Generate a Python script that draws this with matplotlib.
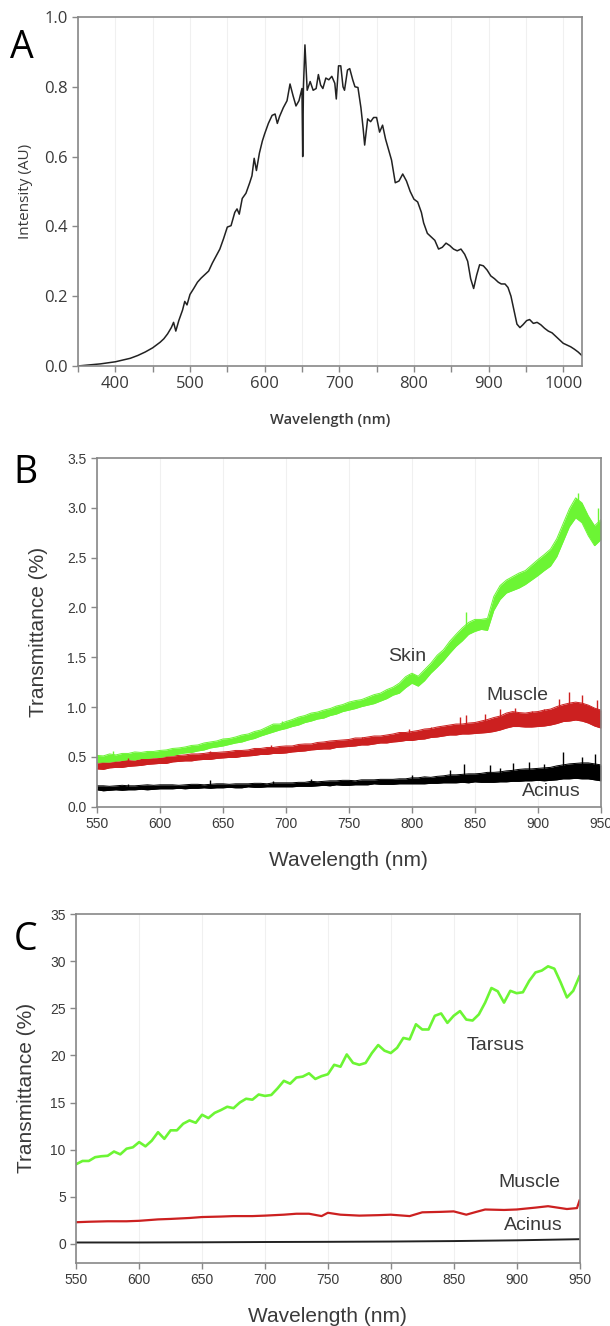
import numpy as np
import matplotlib
matplotlib.use("Agg")
import matplotlib.pyplot as plt
from matplotlib.ticker import MultipleLocator, FormatStrFormatter

# ---- panel A: lamp spectrum ----
spec_nm = [350, 360, 370, 380, 390, 400, 410, 420, 430, 440, 450, 460, 465, 470, 475, 478, 481, 485,
           490, 493, 496, 500, 505, 510, 515, 520, 525, 530, 535, 540, 545, 550, 555, 560, 563, 566,
           570, 575, 580, 583, 586, 589, 593, 597, 600, 605, 610, 614, 617, 620, 625, 630, 634, 638,
           642, 646, 650, 651, 652, 654, 657, 661, 665, 669, 672, 675, 678, 682, 686, 690, 694, 696,
           699, 702, 705, 707, 711, 714, 718, 721, 725, 729, 732, 734, 738, 742, 746, 750, 754, 758,
           762, 766, 770, 775, 780, 785, 790, 795, 800, 805, 810, 813, 818, 823, 828, 833, 838, 843,
           848, 853, 858, 863, 868, 872, 876, 880, 884, 888, 893, 898, 903, 908, 913, 917, 922, 926,
           930, 934, 938, 942, 946, 951, 955, 960, 965, 970, 975, 980, 985, 990, 995, 1000, 1005,
           1010, 1015, 1020, 1025]
spec_int = [0.000, 0.002, 0.004, 0.006, 0.009, 0.012, 0.017, 0.022, 0.030, 0.040, 0.052, 0.068, 0.078,
            0.092, 0.110, 0.125, 0.100, 0.130, 0.160, 0.185, 0.175, 0.205, 0.222, 0.240, 0.252, 0.262,
            0.272, 0.295, 0.315, 0.335, 0.365, 0.398, 0.402, 0.440, 0.450, 0.435, 0.480, 0.495, 0.525,
            0.545, 0.595, 0.560, 0.610, 0.645, 0.665, 0.695, 0.718, 0.722, 0.695, 0.715, 0.740, 0.760,
            0.808, 0.775, 0.745, 0.760, 0.795, 0.600, 0.800, 0.920, 0.790, 0.815, 0.790, 0.795, 0.835,
            0.805, 0.795, 0.825, 0.820, 0.830, 0.810, 0.765, 0.860, 0.860, 0.800, 0.790, 0.848, 0.852,
            0.820, 0.800, 0.798, 0.740, 0.680, 0.633, 0.708, 0.700, 0.712, 0.712, 0.670, 0.690, 0.650,
            0.620, 0.590, 0.525, 0.530, 0.550, 0.530, 0.500, 0.478, 0.470, 0.440, 0.410, 0.380, 0.370,
            0.360, 0.335, 0.340, 0.352, 0.345, 0.335, 0.330, 0.335, 0.320, 0.300, 0.250, 0.222, 0.260,
            0.290, 0.287, 0.275, 0.258, 0.250, 0.240, 0.235, 0.235, 0.225, 0.200, 0.160, 0.120, 0.110,
            0.118, 0.130, 0.133, 0.122, 0.125, 0.118, 0.108, 0.100, 0.095, 0.085, 0.075, 0.065, 0.060,
            0.055, 0.048, 0.040, 0.030]

# ---- panel B: centre of each noisy trace and half width of its noise band, every 5 nm ----
b_nm = list(range(550, 951, 5))
b_skin = [0.48, 0.48, 0.49, 0.49, 0.50, 0.505, 0.51, 0.515, 0.52, 0.525,
          0.53, 0.54, 0.55, 0.56, 0.57, 0.58, 0.59, 0.605, 0.62, 0.63,
          0.645, 0.655, 0.67, 0.685, 0.70, 0.72, 0.74, 0.765, 0.79, 0.80,
          0.82, 0.84, 0.86, 0.88, 0.90, 0.915, 0.93, 0.95, 0.97, 0.99,
          1.01, 1.025, 1.04, 1.06, 1.08, 1.10, 1.13, 1.16, 1.19, 1.25,
          1.29, 1.26, 1.32, 1.39, 1.46, 1.52, 1.60, 1.67, 1.73, 1.79,
          1.82, 1.83, 1.83, 2.04, 2.15, 2.21, 2.24, 2.27, 2.30, 2.35,
          2.40, 2.45, 2.50, 2.60, 2.75, 2.90, 3.00, 2.95, 2.82, 2.72,
          2.78]
b_skin_hw = [0.035, 0.03, 0.04, 0.03, 0.035, 0.03, 0.04, 0.03, 0.035, 0.03,
             0.035, 0.03, 0.035, 0.03, 0.03, 0.035, 0.03, 0.035, 0.03, 0.03,
             0.035, 0.03, 0.03, 0.035, 0.03, 0.035, 0.03, 0.035, 0.04, 0.03,
             0.035, 0.035, 0.04, 0.035, 0.04, 0.035, 0.04, 0.035, 0.04, 0.035,
             0.04, 0.04, 0.035, 0.04, 0.045, 0.04, 0.045, 0.04, 0.05, 0.055,
             0.05, 0.05, 0.055, 0.05, 0.06, 0.055, 0.06, 0.06, 0.065, 0.06,
             0.06, 0.05, 0.06, 0.07, 0.07, 0.065, 0.07, 0.075, 0.07, 0.075,
             0.08, 0.08, 0.085, 0.09, 0.09, 0.09, 0.1, 0.1, 0.1, 0.1,
             0.1]
b_muscle = [0.41, 0.41, 0.42, 0.425, 0.43, 0.435, 0.44, 0.45, 0.455, 0.46,
            0.465, 0.47, 0.48, 0.485, 0.49, 0.495, 0.50, 0.505, 0.51, 0.515,
            0.52, 0.525, 0.53, 0.535, 0.54, 0.55, 0.555, 0.56, 0.565, 0.57,
            0.575, 0.58, 0.59, 0.595, 0.60, 0.61, 0.615, 0.62, 0.63, 0.635,
            0.64, 0.65, 0.655, 0.66, 0.67, 0.675, 0.68, 0.69, 0.70, 0.705,
            0.71, 0.72, 0.73, 0.74, 0.75, 0.76, 0.77, 0.775, 0.78, 0.785,
            0.79, 0.80, 0.81, 0.825, 0.84, 0.865, 0.88, 0.875, 0.87, 0.875,
            0.88, 0.89, 0.90, 0.92, 0.94, 0.95, 0.96, 0.95, 0.93, 0.90,
            0.88]
b_muscle_hw = [0.03, 0.035, 0.03, 0.03, 0.035, 0.03, 0.03, 0.035, 0.03, 0.03,
               0.03, 0.035, 0.03, 0.03, 0.03, 0.035, 0.03, 0.03, 0.035, 0.03,
               0.03, 0.03, 0.035, 0.03, 0.03, 0.035, 0.03, 0.035, 0.03, 0.035,
               0.035, 0.03, 0.035, 0.035, 0.03, 0.035, 0.035, 0.04, 0.035, 0.035,
               0.035, 0.04, 0.035, 0.04, 0.04, 0.035, 0.04, 0.04, 0.045, 0.04,
               0.045, 0.045, 0.05, 0.045, 0.05, 0.05, 0.05, 0.055, 0.05, 0.055,
               0.055, 0.06, 0.065, 0.07, 0.07, 0.075, 0.075, 0.07, 0.07, 0.075,
               0.075, 0.08, 0.08, 0.085, 0.085, 0.09, 0.09, 0.09, 0.09, 0.09,
               0.09]
b_acinus = [0.19, 0.185, 0.185, 0.19, 0.19, 0.19, 0.19, 0.195, 0.195, 0.195,
            0.20, 0.20, 0.20, 0.20, 0.20, 0.205, 0.205, 0.205, 0.205, 0.21,
            0.21, 0.21, 0.21, 0.21, 0.215, 0.215, 0.215, 0.215, 0.22, 0.22,
            0.22, 0.22, 0.225, 0.225, 0.23, 0.23, 0.235, 0.235, 0.24, 0.24,
            0.24, 0.24, 0.245, 0.245, 0.25, 0.25, 0.25, 0.25, 0.255, 0.255,
            0.26, 0.26, 0.265, 0.265, 0.27, 0.275, 0.28, 0.28, 0.285, 0.285,
            0.29, 0.29, 0.295, 0.295, 0.30, 0.305, 0.31, 0.315, 0.32, 0.32,
            0.325, 0.325, 0.33, 0.34, 0.35, 0.355, 0.36, 0.36, 0.36, 0.35,
            0.34]
b_acinus_hw = [0.02, 0.025, 0.02, 0.02, 0.025, 0.02, 0.02, 0.02, 0.025, 0.02,
               0.02, 0.02, 0.02, 0.015, 0.02, 0.02, 0.02, 0.015, 0.02, 0.02,
               0.02, 0.015, 0.02, 0.02, 0.015, 0.02, 0.02, 0.015, 0.02, 0.02,
               0.02, 0.02, 0.02, 0.02, 0.025, 0.02, 0.02, 0.025, 0.02, 0.025,
               0.025, 0.02, 0.025, 0.025, 0.02, 0.025, 0.025, 0.025, 0.025, 0.025,
               0.03, 0.03, 0.035, 0.03, 0.035, 0.035, 0.04, 0.04, 0.04, 0.045,
               0.04, 0.045, 0.05, 0.05, 0.05, 0.055, 0.055, 0.06, 0.06, 0.06,
               0.06, 0.065, 0.065, 0.07, 0.07, 0.075, 0.075, 0.08, 0.08, 0.08,
               0.08]

# isolated spikes sticking out of the noise band: position, foot, tip
skin_spike_nm = [563, 697, 798, 843, 932, 948]
skin_spike_lo = [0.50, 0.80, 1.25, 1.75, 2.98, 2.75]
skin_spike_hi = [0.56, 0.86, 1.33, 1.95, 3.15, 3.00]
muscle_spike_nm = [575, 640, 688, 760, 798, 815, 838, 843, 858, 870, 882, 895, 905, 917, 925, 935, 947]
muscle_spike_lo = [0.43, 0.50, 0.56, 0.65, 0.70, 0.74, 0.78, 0.78, 0.80, 0.84, 0.88, 0.87, 0.89, 0.92, 0.95, 0.95, 0.89]
muscle_spike_hi = [0.49, 0.56, 0.62, 0.70, 0.78, 0.80, 0.90, 0.92, 0.93, 0.98, 0.99, 0.96, 0.98, 1.08, 1.15, 1.12, 1.07]
acinus_spike_nm = [575, 640, 690, 720, 800, 830, 841, 862, 870, 880, 893, 905, 920, 935, 945]
acinus_spike_lo = [0.19, 0.205, 0.22, 0.23, 0.26, 0.28, 0.285, 0.295, 0.30, 0.31, 0.32, 0.325, 0.35, 0.36, 0.35]
acinus_spike_hi = [0.23, 0.27, 0.26, 0.28, 0.32, 0.37, 0.43, 0.42, 0.39, 0.44, 0.45, 0.43, 0.55, 0.50, 0.53]

# ---- panel C: tarsus / muscle / acinus ----
c_nm = list(range(550, 951, 5))
c_tarsus = [8.46, 8.8, 8.8, 9.2, 9.3, 9.35, 9.8, 9.5, 10.1, 10.25, 10.8, 10.35, 10.95, 11.85, 11.15,
            12.05, 12.05, 12.75, 13.1, 12.85, 13.7, 13.35, 13.9, 14.2, 14.55, 14.4, 15.0, 15.4, 15.3,
            15.85, 15.7, 15.8, 16.5, 17.3, 17.0, 17.65, 17.75, 18.1, 17.5, 17.8, 18.0, 19.0, 18.8,
            20.1, 19.2, 19.0, 19.2, 20.25, 21.1, 20.5, 20.25, 20.8, 21.85, 21.7, 23.3, 22.75, 22.75,
            24.2, 24.45, 23.45, 24.2, 24.7, 23.8, 23.7, 24.35, 25.6, 27.15, 26.8, 25.6, 26.85, 26.6,
            26.7, 27.9, 28.8, 29.0, 29.45, 29.2, 27.75, 26.15, 26.85, 28.4]
c_muscle_nm = [550, 560, 575, 590, 600, 615, 625, 640, 650, 665, 675, 690, 700, 715, 725, 735, 745,
               750, 760, 775, 790, 800, 815, 825, 840, 850, 860, 868, 875, 890, 900, 915, 925, 940, 948, 950]
c_muscle = [2.3, 2.35, 2.4, 2.4, 2.45, 2.6, 2.65, 2.75, 2.85, 2.9, 2.95, 2.95, 3.0, 3.1, 3.2, 3.2, 2.95,
            3.3, 3.1, 3.0, 3.05, 3.1, 2.95, 3.35, 3.4, 3.45, 3.1, 3.4, 3.65, 3.6, 3.65, 3.85, 4.0, 3.7, 3.8, 4.6]
c_acinus_nm = [550, 600, 650, 700, 750, 800, 850, 900, 950]
c_acinus = [0.15, 0.15, 0.17, 0.2, 0.22, 0.25, 0.3, 0.38, 0.5]

GREEN = "#6cf534"
RED = "#cc2020"
TXT = "#3a3a3a"


def style_axes(ax, font, size):
    ax.set_axisbelow(True)
    for s in ax.spines.values():
        s.set_color("#888888")
        s.set_linewidth(1.2)
    ax.tick_params(direction="out", length=4, width=1, colors="#888888",
                   labelcolor=TXT, labelsize=size)
    for lab in ax.get_xticklabels() + ax.get_yticklabels():
        lab.set_family(font)


def draw_band(ax, nm, centre, hw, color):
    c = np.array(centre)
    h = np.array(hw)
    ax.fill_between(nm, c - h, c + h, color=color, lw=0, zorder=2)
    ax.plot(nm, c + h, color=color, lw=0.7, zorder=2)
    ax.plot(nm, c - h, color=color, lw=0.7, zorder=2)


def main():
    fig = plt.figure(figsize=(6.10, 13.26), dpi=100)

    # ---------------- A ----------------
    axa = fig.add_axes([0.1279, 0.724, 0.826, 0.2632])
    axa.plot(spec_nm, spec_int, color="#222222", lw=1.1)
    axa.set_xlim(350, 1025)
    axa.set_ylim(0, 1.0)
    axa.set_xticks([400, 500, 600, 700, 800, 900, 1000])
    axa.xaxis.set_minor_locator(MultipleLocator(50))
    axa.set_yticks([0.0, 0.2, 0.4, 0.6, 0.8, 1.0])
    axa.yaxis.set_major_formatter(FormatStrFormatter("%.1f"))
    axa.grid(which="both", axis="x", color="#f0f0f0", lw=0.8)
    style_axes(axa, "Open Sans", 12)
    axa.tick_params(which="minor", direction="out", length=4, width=1, colors="#888888")
    axa.set_xlabel("Wavelength (nm)", family="Open Sans", fontsize=10.5, fontweight="semibold",
                   color=TXT, labelpad=15)
    axa.set_ylabel("Intensity (AU)", family="Open Sans", fontsize=11, color=TXT, labelpad=8)
    fig.text(0.016, 0.964, "A", family="Open Sans", fontsize=27, color="black", va="center")

    # ---------------- B ----------------
    axb = fig.add_axes([0.159, 0.3916, 0.826, 0.263])
    draw_band(axb, b_nm, b_acinus, b_acinus_hw, "black")
    draw_band(axb, b_nm, b_muscle, b_muscle_hw, RED)
    draw_band(axb, b_nm, b_skin, b_skin_hw, GREEN)
    axb.vlines(acinus_spike_nm, acinus_spike_lo, acinus_spike_hi, color="black", lw=1, zorder=2)
    axb.vlines(muscle_spike_nm, muscle_spike_lo, muscle_spike_hi, color=RED, lw=1, zorder=2)
    axb.vlines(skin_spike_nm, skin_spike_lo, skin_spike_hi, color=GREEN, lw=1, zorder=2)
    axb.set_xlim(550, 950)
    axb.set_ylim(0, 3.5)
    axb.xaxis.set_major_locator(MultipleLocator(50))
    axb.yaxis.set_major_locator(MultipleLocator(0.5))
    axb.yaxis.set_major_formatter(FormatStrFormatter("%.1f"))
    axb.grid(axis="x", color="#f0f0f0", lw=0.8)
    style_axes(axb, "Liberation Sans", 10)
    axb.set_xlabel("Wavelength (nm)", family="Liberation Sans", fontsize=15, color=TXT, labelpad=14)
    axb.set_ylabel("Transmittance (%)", family="Liberation Sans", fontsize=15, color=TXT, labelpad=14)
    axb.text(796, 1.51, "Skin", family="Liberation Sans", fontsize=14, color=TXT, ha="center", va="center")
    axb.text(884, 1.12, "Muscle", family="Liberation Sans", fontsize=14, color=TXT, ha="center", va="center")
    axb.text(911, 0.15, "Acinus", family="Liberation Sans", fontsize=14, color=TXT, ha="center", va="center")
    fig.text(0.022, 0.643, "B", family="Open Sans", fontsize=27, color="black", va="center")

    # ---------------- C ----------------
    axc = fig.add_axes([0.125, 0.0477, 0.825, 0.263])
    axc.plot(c_acinus_nm, c_acinus, color="#222222", lw=1.4)
    axc.plot(c_muscle_nm, c_muscle, color=RED, lw=1.6)
    axc.plot(c_nm, c_tarsus, color=GREEN, lw=1.9)
    axc.set_xlim(550, 950)
    axc.set_ylim(-2, 35)
    axc.xaxis.set_major_locator(MultipleLocator(50))
    axc.set_yticks([0, 5, 10, 15, 20, 25, 30, 35])
    axc.grid(axis="x", color="#f0f0f0", lw=0.8)
    style_axes(axc, "Liberation Sans", 10)
    axc.set_xlabel("Wavelength (nm)", family="Liberation Sans", fontsize=15, color=TXT, labelpad=14)
    axc.set_ylabel("Transmittance (%)", family="Liberation Sans", fontsize=15, color=TXT, labelpad=10)
    axc.text(883, 21.1, "Tarsus", family="Liberation Sans", fontsize=14, color=TXT, ha="center", va="center")
    axc.text(910, 6.5, "Muscle", family="Liberation Sans", fontsize=14, color=TXT, ha="center", va="center")
    axc.text(913, 1.9, "Acinus", family="Liberation Sans", fontsize=14, color=TXT, ha="center", va="center")
    fig.text(0.022, 0.291, "C", family="Open Sans", fontsize=27, color="black", va="center")

    fig.savefig("out.png", dpi=100, facecolor="white")


if __name__ == "__main__":
    main()
